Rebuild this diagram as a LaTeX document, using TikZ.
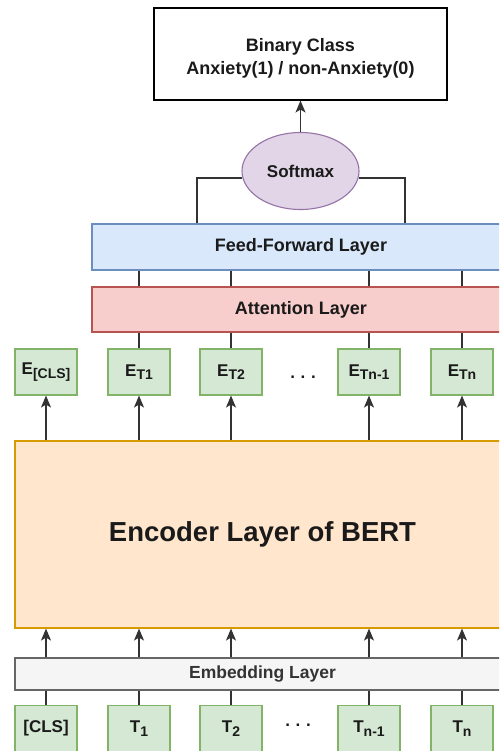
\documentclass[tikz,border=0pt]{standalone}
\usepackage{fontspec}
\setmainfont{Liberation Sans}
\usetikzlibrary{shapes.geometric,arrows.meta}
\definecolor{lc}{HTML}{333333}
\definecolor{txt}{HTML}{1A1A1A}
\definecolor{fffill}{HTML}{DAE8FC}\definecolor{ffdraw}{HTML}{6C8EBF}
\definecolor{atfill}{HTML}{F8CECC}\definecolor{atdraw}{HTML}{B85450}
\definecolor{tkfill}{HTML}{D5E8D4}\definecolor{tkdraw}{HTML}{82B366}
\definecolor{enfill}{HTML}{FFE6CC}\definecolor{endraw}{HTML}{D79B00}
\definecolor{emfill}{HTML}{F5F5F5}\definecolor{emdraw}{HTML}{666666}
\definecolor{smfill}{HTML}{E1D5E7}\definecolor{smdraw}{HTML}{9673A6}
\newcommand\mysub[1]{\raisebox{-0.4ex}{\fontsize{14}{14}\selectfont #1}}
\begin{document}
\begin{tikzpicture}[x=1pt,y=-1pt,
  base/.style={rectangle, inner sep=0pt, line width=1.1pt, text=txt, font=\bfseries\fontsize{18}{23}\selectfont, align=center},
  tok/.style={base, draw=tkdraw, fill=tkfill, minimum width=62pt, minimum height=46pt, font=\bfseries\fontsize{17}{20}\selectfont},
  conn/.style={draw=lc, line width=1.3pt},
  arr/.style={draw=lc, line width=1.3pt, arrows={-Stealth[length=12pt,width=10pt,inset=3pt]}},
  dots/.style={text=txt, font=\bfseries\fontsize{17}{20}\selectfont}
]
\useasboundingbox (0,0) rectangle (499,751);
\clip (0,0) rectangle (499,751);

% output box
\node[base, draw=black, fill=white, minimum width=293pt, minimum height=92pt] (out) at (300.5,54) {};
\node[base, text=txt] (outtxt) at (300.5,58) {Binary Class\\Anxiety(1) / non-Anxiety(0)};
% softmax
\node[ellipse, draw=smdraw, fill=smfill, line width=1.1pt, minimum width=117pt, minimum height=77pt, inner sep=0pt, text=txt, font=\bfseries\fontsize{17}{20}\selectfont] (sm) at (300.5,171) {Softmax};
% layers
\node[base, draw=ffdraw, fill=fffill, minimum width=418pt, minimum height=46pt] (ff) at (301,247) {Feed-Forward Layer};
\node[base, draw=atdraw, fill=atfill, minimum width=418pt, minimum height=45pt] (att) at (301,309.5) {Attention Layer};

% E boxes
\node[tok] (e0) at (46,372) {E\mysub{[CLS]}};
\node[tok] (e1) at (139,372) {E\mysub{T1}};
\node[tok] (e2) at (231,372) {E\mysub{T2}};
\node[tok] (e3) at (369,372) {E\mysub{Tn-1}};
\node[tok] (e4) at (462,372) {E\mysub{Tn}};
\node[dots] (edots) at (303,377) {.\,\,.\,\,.};

% encoder
\node[base, draw=endraw, fill=enfill, minimum width=495pt, minimum height=187pt, font=\bfseries\fontsize{27.5}{30}\selectfont] (enc) at (262.5,534.5) {Encoder Layer of BERT};
% embedding
\node[base, draw=emdraw, fill=emfill, minimum width=495pt, minimum height=32pt, text=lc, font=\bfseries\fontsize{17.5}{20}\selectfont] (emb) at (262.5,674) {Embedding Layer};

% T boxes
\node[tok] (t0) at (46,728.5) {[CLS]};
\node[tok] (t1) at (139,728.5) {T\mysub{1}};
\node[tok] (t2) at (231,728.5) {T\mysub{2}};
\node[tok] (t3) at (369,728.5) {T\mysub{n-1}};
\node[tok] (t4) at (462,728.5) {T\mysub{n}};
\node[dots] (tdots) at (298,725) {.\,\,.\,\,.};

% connectors top
\draw[arr] (sm.north) -- (out.south);
\draw[conn] (sm.187) -| (ff.north -| 197,0);
\draw[conn] (sm.-7) -| (ff.north -| 405,0);

\foreach \i in {1,2,3,4}{
  \draw[conn] (ff.south -| e\i.north) -- (att.north -| e\i.north);
  \draw[conn] (att.south -| e\i.north) -- (e\i.north);
}
\foreach \i in {0,1,2,3,4}{
  \draw[arr] (enc.north -| e\i.south) -- (e\i.south);
  \draw[arr] (emb.north -| t\i.north) -- (enc.south -| t\i.north);
  \draw[conn] (t\i.north) -- (emb.south -| t\i.north);
}
\end{tikzpicture}
\end{document}
